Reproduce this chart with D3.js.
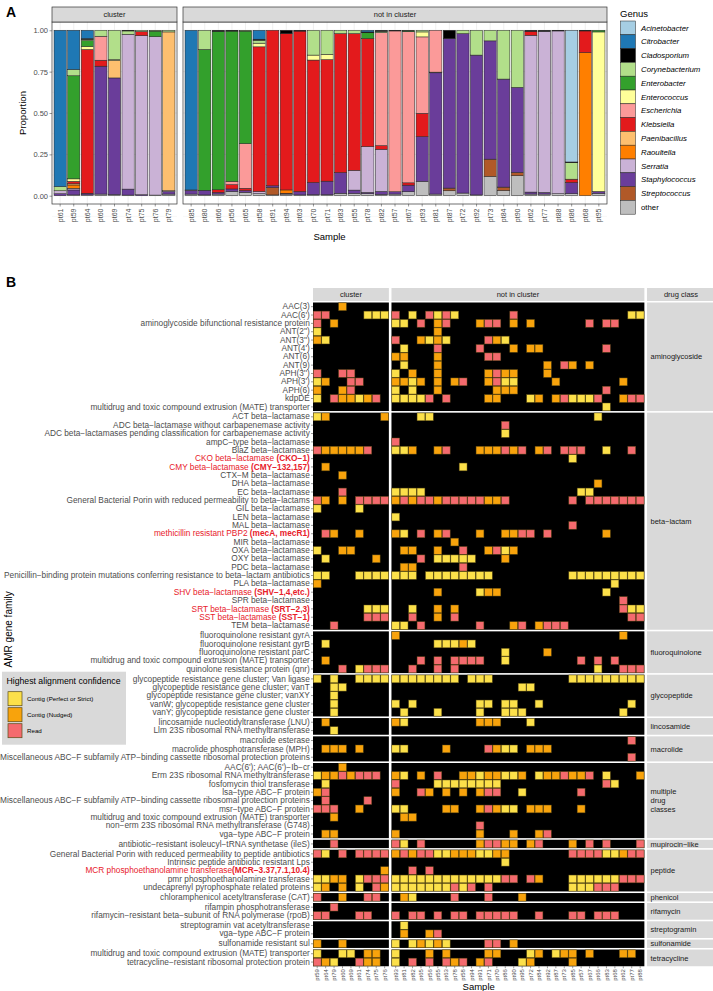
<!DOCTYPE html>
<html>
<head>
<meta charset="utf-8">
<script src="https://cdn.jsdelivr.net/npm/d3@7"></script>
<style>
  body { margin: 0; background: #fff; }
  svg { display: block; font-family: "Liberation Sans", Arial, sans-serif; }
</style>
</head>
<body>
<div id="chart"></div>
<script>
// ---------------- data: panel A ----------------
const genera = ["Acinetobacter", "Citrobacter", "Cladosporium", "Corynebacterium", "Enterobacter",
  "Enterococcus", "Escherichia", "Klebsiella", "Paenibacillus", "Raoultella", "Serratia",
  "Staphylococcus", "Streptococcus", "other"];
const genusColors = ["#A6CEE3", "#1F78B4", "#000000", "#B2DF8A", "#33A02C", "#FFFF99", "#FB9A99",
  "#E31A1C", "#FDBF6F", "#FF7F00", "#CAB2D6", "#6A3D9A", "#B15928", "#BEBEBE"];
const clusterSamplesA = ["pt61", "pt59", "pt64", "pt60", "pt69", "pt74", "pt75", "pt76", "pt79"];
const otherSamplesA = ["pt85", "pt80", "pt66", "pt56", "pt65", "pt58", "pt91", "pt94", "pt63", "pt70",
  "pt71", "pt83", "pt55", "pt78", "pt82", "pt57", "pt67", "pt93", "pt81", "pt87", "pt72", "pt92",
  "pt73", "pt84", "pt90", "pt62", "pt77", "pt88", "pt86", "pt68", "pt95"];
// one row per sample (cluster first), values in the order of `genera`
const proportionsA = [
  [0, .945, 0, .025, 0, 0, 0, 0, 0, 0, .018, .012, 0, 0],
  [0, .237, 0, .038, .623, .015, 0, .015, .007, .02, .01, .03, 0, .005],
  [0, .05, .005, .008, .035, .018, 0, .869, 0, 0, 0, .01, 0, .005],
  [0, 0, 0, .036, 0, 0, .145, .036, 0, 0, 0, .773, 0, .01],
  [0, 0, 0, .177, 0, .005, 0, 0, .106, 0, 0, .705, 0, .007],
  [0, 0, .004, .02, 0, 0, 0, 0, 0, 0, .936, .036, 0, .004],
  [0, 0, 0, .008, 0, 0, 0, .024, 0, 0, .962, .006, 0, 0],
  [0, 0, 0, .005, .034, 0, 0, 0, 0, 0, .957, 0, 0, .004],
  [0, 0, 0, .01, 0, 0, 0, 0, .96, 0, .005, .015, 0, .01],
  [0, .965, 0, 0, 0, 0, 0, 0, 0, 0, .005, .02, 0, .01],
  [0, 0, 0, .116, .851, 0, 0, 0, 0, 0, 0, .028, 0, .005],
  [0, 0, .006, 0, .958, 0, 0, .016, 0, 0, 0, .01, 0, .01],
  [0, 0, .005, 0, .908, 0, .02, .026, 0, 0, 0, .015, 0, .026],
  [0, 0, 0, .005, .68, 0, .27, .014, 0, 0, 0, .01, 0, .021],
  [0, .054, .006, .018, 0, .022, 0, .874, 0, 0, .014, 0, 0, .012],
  [0, 0, 0, 0, 0, 0, 0, .94, 0, 0, 0, .01, .045, .005],
  [0, 0, .02, 0, 0, 0, 0, .945, 0, .02, 0, .005, 0, .01],
  [0, 0, .005, 0, 0, 0, 0, .97, 0, 0, 0, .02, 0, .005],
  [0, 0, 0, .15, 0, .03, 0, .74, 0, 0, 0, .074, 0, .006],
  [0, 0, 0, .145, 0, .032, 0, .735, 0, 0, 0, .082, 0, .006],
  [0, 0, 0, .02, 0, 0, 0, .84, 0, 0, 0, .125, 0, .015],
  [0, 0, 0, .02, 0, 0, 0, .826, 0, 0, .12, .02, 0, .014],
  [0, .01, .005, 0, .035, 0, 0, .653, 0, 0, .277, .008, 0, .012],
  [0, 0, .006, .008, 0, 0, .683, .022, 0, 0, .255, .018, 0, .008],
  [0, 0, .004, 0, 0, 0, .972, 0, 0, 0, 0, .014, 0, .01],
  [0, 0, 0, .004, .004, 0, .914, .014, 0, 0, 0, .04, 0, .024],
  [0, 0, 0, .01, 0, .03, .462, .141, 0, 0, 0, .27, 0, .087],
  [0, 0, 0, 0, 0, 0, .253, 0, 0, 0, .004, .733, 0, .01],
  [0, 0, .05, 0, 0, 0, 0, 0, 0, 0, 0, .904, .016, .03],
  [0, 0, 0, .02, 0, 0, 0, 0, 0, 0, 0, .964, 0, .016],
  [0, 0, 0, .15, 0, 0, 0, 0, 0, 0, 0, .845, 0, .005],
  [0, 0, 0, .064, 0, 0, 0, 0, 0, 0, 0, .715, .104, .117],
  [0, 0, 0, .295, 0, 0, 0, 0, 0, 0, 0, .653, .02, .032],
  [0, 0, 0, .345, 0, 0, 0, 0, 0, 0, 0, .514, .02, .121],
  [0, 0, .006, 0, 0, 0, 0, .024, 0, 0, .948, .012, 0, .01],
  [0, 0, .006, 0, 0, 0, 0, 0, 0, 0, .974, .01, 0, .01],
  [0, 0, .004, 0, 0, 0, 0, 0, 0, 0, .984, 0, 0, .012],
  [.796, 0, .004, .1, 0, 0, 0, .02, 0, 0, 0, .068, 0, .012],
  [0, 0, .004, 0, 0, 0, 0, .131, 0, .865, 0, 0, 0, 0],
  [0, 0, 0, 0, .01, .964, 0, 0, 0, 0, 0, .012, 0, .014]
];
const yTicksA = [0, 0.25, 0.5, 0.75, 1];

// ---------------- data: panel B ----------------
const clusterSamplesB = ["pt59", "pt64", "pt79", "pt60", "pt69", "pt61", "pt74", "pt75", "pt76"];
const otherSamplesB = ["pt93", "pt81", "pt82", "pt65", "pt56", "pt55", "pt63", "pt78", "pt58", "pt94",
  "pt91", "pt71", "pt70", "pt86", "pt90", "pt95", "pt72", "pt84", "pt92", "pt87", "pt73", "pt85",
  "pt57", "pt67", "pt66", "pt83", "pt68", "pt62", "pt77", "pt88"];
const confidenceLevels = ["Contig (Perfect or Strict)", "Contig (Nudged)", "Read"];
const confidenceCodes = ["Y", "O", "R"];
const confidenceColors = ["#FCE04A", "#F8A30C", "#F46A6E"];
const drugClasses = ["aminoglycoside", "beta-lactam", "fluoroquinolone", "glycopeptide", "lincosamide",
  "macrolide", "multiple drug classes", "mupirocin-like", "peptide", "phenicol", "rifamycin",
  "streptogramin", "sulfonamide", "tetracycline"];
// [drug class, label, bold red suffix (only for highlighted families)]
const geneFamilies = [
  ["aminoglycoside", "AAC(3)"],
  ["aminoglycoside", "AAC(6')"],
  ["aminoglycoside", "aminoglycoside bifunctional resistance protein"],
  ["aminoglycoside", "ANT(2'')"],
  ["aminoglycoside", "ANT(3'')"],
  ["aminoglycoside", "ANT(4')"],
  ["aminoglycoside", "ANT(6)"],
  ["aminoglycoside", "ANT(9)"],
  ["aminoglycoside", "APH(3'')"],
  ["aminoglycoside", "APH(3')"],
  ["aminoglycoside", "APH(6)"],
  ["aminoglycoside", "kdpDE"],
  ["aminoglycoside", "multidrug and toxic compound extrusion (MATE) transporter"],
  ["beta-lactam", "ACT beta-lactamase"],
  ["beta-lactam", "ADC beta-lactamase without carbapenemase activity"],
  ["beta-lactam", "ADC beta-lactamases pending classification for carbapenemase activity"],
  ["beta-lactam", "ampC-type beta-lactamase"],
  ["beta-lactam", "BlaZ beta-lactamase"],
  ["beta-lactam", "CKO beta-lactamase ", "(CKO-1)"],
  ["beta-lactam", "CMY beta-lactamase ", "(CMY-132,157)"],
  ["beta-lactam", "CTX-M beta-lactamase"],
  ["beta-lactam", "DHA beta-lactamase"],
  ["beta-lactam", "EC beta-lactamase"],
  ["beta-lactam", "General Bacterial Porin with reduced permeability to beta-lactams"],
  ["beta-lactam", "GIL beta-lactamase"],
  ["beta-lactam", "LEN beta-lactamase"],
  ["beta-lactam", "MAL beta-lactamase"],
  ["beta-lactam", "methicillin resistant PBP2 ", "(mecA, mecR1)"],
  ["beta-lactam", "MIR beta-lactamase"],
  ["beta-lactam", "OXA beta-lactamase"],
  ["beta-lactam", "OXY beta-lactamase"],
  ["beta-lactam", "PDC beta-lactamase"],
  ["beta-lactam", "Penicillin-binding protein mutations conferring resistance to beta-lactam antibiotics"],
  ["beta-lactam", "PLA beta-lactamase"],
  ["beta-lactam", "SHV beta-lactamase ", "(SHV-1,4,etc.)"],
  ["beta-lactam", "SPR beta-lactamase"],
  ["beta-lactam", "SRT beta-lactamase ", "(SRT-2,3)"],
  ["beta-lactam", "SST beta-lactamase ", "(SST-1)"],
  ["beta-lactam", "TEM beta-lactamase"],
  ["fluoroquinolone", "fluoroquinolone resistant gyrA"],
  ["fluoroquinolone", "fluoroquinolone resistant gyrB"],
  ["fluoroquinolone", "fluoroquinolone resistant parC"],
  ["fluoroquinolone", "multidrug and toxic compound extrusion (MATE) transporter"],
  ["fluoroquinolone", "quinolone resistance protein (qnr)"],
  ["glycopeptide", "glycopeptide resistance gene cluster; Van ligase"],
  ["glycopeptide", "glycopeptide resistance gene cluster; vanT"],
  ["glycopeptide", "glycopeptide resistance gene cluster; vanXY"],
  ["glycopeptide", "vanW; glycopeptide resistance gene cluster"],
  ["glycopeptide", "vanY; glycopeptide resistance gene cluster"],
  ["lincosamide", "lincosamide nucleotidyltransferase (LNU)"],
  ["lincosamide", "Llm 23S ribosomal RNA methyltransferase"],
  ["macrolide", "macrolide esterase"],
  ["macrolide", "macrolide phosphotransferase (MPH)"],
  ["macrolide", "Miscellaneous ABC-F subfamily ATP-binding cassette ribosomal protection proteins"],
  ["multiple drug classes", "AAC(6'); AAC(6')-Ib-cr"],
  ["multiple drug classes", "Erm 23S ribosomal RNA methyltransferase"],
  ["multiple drug classes", "fosfomycin thiol transferase"],
  ["multiple drug classes", "lsa-type ABC-F protein"],
  ["multiple drug classes", "Miscellaneous ABC-F subfamily ATP-binding cassette ribosomal protection proteins"],
  ["multiple drug classes", "msr-type ABC-F protein"],
  ["multiple drug classes", "multidrug and toxic compound extrusion (MATE) transporter"],
  ["multiple drug classes", "non-erm 23S ribosomal RNA methyltransferase (G748)"],
  ["multiple drug classes", "vga-type ABC-F protein"],
  ["mupirocin-like", "antibiotic-resistant isoleucyl-tRNA synthetase (ileS)"],
  ["peptide", "General Bacterial Porin with reduced permeability to peptide antibiotics"],
  ["peptide", "Intrinsic peptide antibiotic resistant Lps"],
  ["peptide", "MCR phosphoethanolamine transferase", "(MCR-3.37,7.1,10.4)"],
  ["peptide", "pmr phosphoethanolamine transferase"],
  ["peptide", "undecaprenyl pyrophosphate related proteins"],
  ["phenicol", "chloramphenicol acetyltransferase (CAT)"],
  ["rifamycin", "rifampin phosphotransferase"],
  ["rifamycin", "rifamycin-resistant beta-subunit of RNA polymerase (rpoB)"],
  ["streptogramin", "streptogramin vat acetyltransferase"],
  ["streptogramin", "vga-type ABC-F protein"],
  ["sulfonamide", "sulfonamide resistant sul"],
  ["tetracycline", "multidrug and toxic compound extrusion (MATE) transporter"],
  ["tetracycline", "tetracycline-resistant ribosomal protection protein"]
];
// one string per gene family: 9 cluster samples then 30 other samples
// Y = contig (perfect/strict), O = contig (nudged), R = read, . = none
const hits = [
  "...O....." + "..............................",
  "RR....YYY" + "R.Y.RYRY......R.............YY",
  "R.O......" + "YY.R.OR...ORR.O.O......R.RR...",
  "Y........" + ".....O........................",
  "OY......." + "R..OYOY....ROY................",
  "........." + ".Y...R....R...O.OO.......R....",
  "........." + "OO...O.....RR.................",
  "........." + ".Y...O............O.RO.O......",
  "R..RR...." + "Y.O..O.....OROO...O...........",
  "YO..RR..." + "OOYO.O.OR..ORYY....O.......O..",
  "O..OR...." + "Y.Y..O......OOO..........R....",
  "Y.ROOYOR." + "YYYYR.R....OO...YO.ORYYYR..ORR",
  "........." + ".........................Y....",
  "YO......O" + "...YY...................Y.....",
  "........." + ".............R................",
  "........." + ".............Y................",
  "........." + "R.............................",
  "ROOOOOR.." + "YYO..OR...OOOROR.OR.RRR..Y..R.",
  "........." + ".....................Y........",
  ".O......." + "........Y.....................",
  "...O....." + "..............................",
  "........." + "........................O.....",
  "...R....." + "YYYY..................YY......",
  "RO.O.RRRR" + "ORORRORRRRROOR.......R.RRRRRRR",
  "Y....Y..." + "..............................",
  "........." + "Y.............................",
  "........." + ".....................R........",
  ".RO..O..." + "OY.R.OR...O..OORR.R......O....",
  "........." + ".......O......................",
  "Y..OO...." + ".OO..O..R..ORYO...............",
  ".Y.....O." + "...R.YYYYY...O................",
  "........." + ".OO.....R.....................",
  "YY...YYYY" + "YYY.YYYYYYYY.........YYYYYYYYY",
  "O........" + "..........................Y...",
  "........." + ".....O....YOO............Y....",
  "........." + "...........................R..",
  "......YYY" + "..Y..O.O...................RYY",
  "......RRR" + "..R..O.R....................RR",
  "..R......" + "YY.R......R...OR.ORRR.........",
  "........." + "O..........................O..",
  ".Y......." + ".....YYYOY....................",
  "........." + ".............Y....O...........",
  ".O......." + "...R.R.RRRR..Y........R.R.R...",
  "...R.YRRR" + "..R..R.R................Y..RRR",
  "Y.Y..YYYY" + "YYYYYYYY.YYY.........YYYYYYYYY",
  "..YY....." + "...............YY.............",
  "..Y......" + "..............................",
  "..Y......" + "Y.Y.......YY.YY..Y..........Y.",
  "..Y......" + ".Y...Y....Y..YYY...........Y..",
  ".O......." + "OY........OOO...Y.............",
  "..Y......" + "..............................",
  "........." + "............................R.",
  ".OOO.O..." + "YY....O....ROYY.OOO...........",
  "........." + "............................R.",
  "...O....." + "..............................",
  "YOORORRR." + "OY.O.R..OOYOOYYO.YOOROOR.Y...O",
  ".Y......." + "R....YYYYYYYY............RY...",
  "OR......." + "O..RO.O.O.ORR..Y......R.......",
  ".R....R.." + "..............................",
  "RRR..O..." + "YY....OO..OROYY.OOO...O.......",
  "..O......" + ".OO...........................",
  "........." + "..........R...................",
  ".OO......" + "O.........O...O..OR...........",
  "..R......" + "RY.R......ORROO.OR...O.R.R...R",
  "RY.R.RRRR" + "ORORRYYOOOYYOO.......RRRRYYORR",
  "........." + ".............Y................",
  "........O" + "..R.R.........................",
  "YYOO.YRRR" + "YYYYYYYYYYYYYRR.RO...YYYYYYRRR",
  "YO.O.Y.RO" + "YYYYYYYRYR.R.........YYYRRR...",
  "R..O..RR." + ".OY....R...R...O..............",
  "..R......" + "..............................",
  "RR...RR.." + "R.RR.R.RR.RRRRR..R...RR.RRR...",
  "........." + ".Y............................",
  "........." + ".O..OR........................",
  "O..O....." + "Y.YOYOY....RR.O...............",
  "Y..YY.OO." + "Y...O.O....OO...YO.YOO.O...OO.",
  "ROY..ROO." + "Y.R.R.ROR.OR...YO....O........"
];

// ---------------- drawing ----------------
const W = 713, H = 991;
const INK = "#1A1A1A", TICK = "#4D4D4D", STRIP = "#D9D9D9", GRID = "#EBEBEB";
const minus = s => s.replace(/-/g, "\u2212");

const svg = d3.select("#chart").append("svg")
  .attr("width", W).attr("height", H);

function styleAxis(g, size) {
  g.attr("font-family", null).attr("font-size", size);
  g.select(".domain").remove();
  g.selectAll(".tick line").attr("stroke", "#333").attr("stroke-width", 0.5);
  g.selectAll(".tick text").attr("fill", TICK);
}

// Panel labels
svg.append("text").attr("x", 6).attr("y", 17).attr("font-size", 14).attr("font-weight", "bold").text("A");
svg.append("text").attr("x", 6).attr("y", 287).attr("font-size", 14).attr("font-weight", "bold").text("B");

// ===== Panel A: stacked bars =====
const A_TOP = 22, A_BOT = 204, A_STRIP = 7;
const panelsA = [
  { name: "cluster", samples: clusterSamplesA, x0: 52, x1: 177 },
  { name: "not in cluster", samples: otherSamplesA, x0: 183, x1: 607 }
];
const yA = d3.scaleLinear().domain([-0.05, 1.05]).range([A_BOT, A_TOP]);
const colorA = d3.scaleOrdinal(genera, genusColors);

const rowsA = clusterSamplesA.concat(otherSamplesA).map((s, i) => {
  const o = { sample: s };
  genera.forEach((g, j) => { o[g] = proportionsA[i][j]; });
  return o;
});
const seriesA = d3.stack().keys(genera.slice().reverse())(rowsA);

panelsA.forEach(p => {
  const x = d3.scaleBand().domain(p.samples).range([p.x0, p.x1])
    .paddingInner(0.1).paddingOuter(0.15);
  const g = svg.append("g");

  g.append("rect").attr("x", p.x0).attr("y", A_TOP)
    .attr("width", p.x1 - p.x0).attr("height", A_BOT - A_TOP).attr("fill", "#fff");

  // minor + major grid
  d3.range(-0.125, 1.1, 0.25).forEach(v => {
    g.append("line").attr("x1", p.x0).attr("x2", p.x1).attr("y1", yA(v)).attr("y2", yA(v))
      .attr("stroke", GRID).attr("stroke-width", 0.4);
  });
  yTicksA.forEach(v => {
    g.append("line").attr("x1", p.x0).attr("x2", p.x1).attr("y1", yA(v)).attr("y2", yA(v))
      .attr("stroke", GRID).attr("stroke-width", 0.8);
  });
  p.samples.forEach(s => {
    const cx = x(s) + x.bandwidth() / 2;
    g.append("line").attr("x1", cx).attr("x2", cx).attr("y1", A_TOP).attr("y2", A_BOT)
      .attr("stroke", GRID).attr("stroke-width", 0.8);
  });

  // bars
  seriesA.forEach(ser => {
    g.selectAll(null)
      .data(ser.filter(d => p.samples.includes(d.data.sample) && d[1] - d[0] > 0))
      .join("rect")
      .attr("x", d => x(d.data.sample))
      .attr("width", x.bandwidth())
      .attr("y", d => yA(d[1]))
      .attr("height", d => yA(d[0]) - yA(d[1]))
      .attr("fill", colorA(ser.key))
      .attr("stroke", "#222").attr("stroke-width", 0.5);
  });

  // border
  g.append("rect").attr("x", p.x0).attr("y", A_TOP)
    .attr("width", p.x1 - p.x0).attr("height", A_BOT - A_TOP)
    .attr("fill", "none").attr("stroke", "#333").attr("stroke-width", 0.7);

  // strip
  g.append("rect").attr("x", p.x0).attr("y", A_STRIP)
    .attr("width", p.x1 - p.x0).attr("height", A_TOP - A_STRIP)
    .attr("fill", STRIP).attr("stroke", "#333").attr("stroke-width", 0.7);
  g.append("text").attr("x", (p.x0 + p.x1) / 2).attr("y", (A_STRIP + A_TOP) / 2)
    .attr("dy", "0.35em").attr("text-anchor", "middle").attr("font-size", 7.5)
    .attr("fill", INK).text(p.name);

  // x axis
  const ax = svg.append("g").attr("transform", `translate(0,${A_BOT})`)
    .call(d3.axisBottom(x).tickSize(2.5));
  styleAxis(ax, 7);
  ax.selectAll(".tick text")
    .attr("transform", "rotate(-90)").attr("x", -4.5).attr("y", 0).attr("dy", "0.35em")
    .attr("text-anchor", "end");
});

const ayA = svg.append("g").attr("transform", `translate(52,0)`)
  .call(d3.axisLeft(yA).tickValues(yTicksA).tickFormat(d3.format(".2f")).tickSize(2.5));
styleAxis(ayA, 7.5);
ayA.selectAll(".tick text").attr("x", -4);

svg.append("text").attr("transform", "translate(26,113) rotate(-90)")
  .attr("text-anchor", "middle").attr("font-size", 9.5).text("Proportion");
svg.append("text").attr("x", 329.5).attr("y", 240)
  .attr("text-anchor", "middle").attr("font-size", 9.5).text("Sample");

// legend A
const legA = svg.append("g").attr("transform", "translate(620,0)");
legA.append("text").attr("x", 0).attr("y", 17).attr("font-size", 9.5).text("Genus");
genera.forEach((gname, i) => {
  const yy = 21 + i * 13.8;
  legA.append("rect").attr("x", 0.5).attr("y", yy).attr("width", 15).attr("height", 13.8)
    .attr("fill", colorA(gname)).attr("stroke", "#222").attr("stroke-width", 0.5);
  legA.append("text").attr("x", 21).attr("y", yy + 6.9).attr("dy", "0.35em")
    .attr("font-size", 7.8).attr("font-style", gname === "other" ? "normal" : "italic")
    .text(gname);
});

// ===== Panel B: heatmap =====
const cw = 8.43, rowH = 8.35, gapV = 1.6, gapH = 2.6;
const B_LEFT = 313, HEAT_TOP = 302.5, B_STRIP = 288;
const xc = d3.scaleBand().domain(clusterSamplesB)
  .range([B_LEFT, B_LEFT + clusterSamplesB.length * cw]);
const xn0 = xc.range()[1] + gapH;
const xn = d3.scaleBand().domain(otherSamplesB)
  .range([xn0, xn0 + otherSamplesB.length * cw]);
const STRIP_X = xn.range()[1] + gapH;
const colorB = d3.scaleOrdinal(confidenceCodes, confidenceColors);

const famRows = geneFamilies.map((f, i) => ({ idx: i, cls: f[0], label: f[1], bold: f[2], hit: hits[i] }));

// top strips
[[xc.range(), "cluster"], [xn.range(), "not in cluster"], [[STRIP_X, W + 2], "drug class"]].forEach(([r, t]) => {
  svg.append("rect").attr("x", r[0]).attr("y", B_STRIP).attr("width", r[1] - r[0])
    .attr("height", HEAT_TOP - B_STRIP - 1.5).attr("fill", STRIP);
  svg.append("text").attr("x", (r[0] + r[1]) / 2).attr("y", (B_STRIP + HEAT_TOP - 1.5) / 2)
    .attr("dy", "0.35em").attr("text-anchor", "middle").attr("font-size", 7.5)
    .attr("fill", INK).text(t);
});

const panelTop = {};
let yCursor = HEAT_TOP;
drugClasses.forEach(cls => {
  const rows = famRows.filter(r => r.cls === cls);
  const y = d3.scaleBand().domain(rows.map(r => r.idx))
    .range([yCursor, yCursor + rows.length * rowH]);
  const [y0, y1] = y.range();
  panelTop[cls] = y0;

  [xc, xn].forEach((xs, k) => {
    const [x0, x1] = xs.range();
    svg.append("rect").attr("x", x0).attr("y", y0).attr("width", x1 - x0).attr("height", y1 - y0)
      .attr("fill", "#000");
    const cells = [];
    rows.forEach(r => {
      xs.domain().forEach((s, j) => {
        const c = r.hit[k === 0 ? j : clusterSamplesB.length + j];
        if (c !== ".") cells.push({ s, idx: r.idx, c });
      });
    });
    svg.append("g").selectAll("rect").data(cells).join("rect")
      .attr("x", d => xs(d.s) + 0.3).attr("y", d => y(d.idx) + 0.3)
      .attr("width", xs.bandwidth() - 0.6).attr("height", y.bandwidth() - 0.6)
      .attr("fill", d => colorB(d.c))
      .attr("stroke", "#5a4a14").attr("stroke-opacity", 0.75).attr("stroke-width", 0.6);
  });

  // right strip
  svg.append("rect").attr("x", STRIP_X).attr("y", y0).attr("width", W + 2 - STRIP_X)
    .attr("height", y1 - y0).attr("fill", STRIP);
  const lines = cls === "multiple drug classes" ? ["multiple", "drug", "classes"] : [minus(cls)];
  const lt = svg.append("text").attr("x", STRIP_X + 3.5).attr("font-size", 7.5).attr("fill", INK);
  lines.forEach((l, i) => {
    lt.append("tspan").attr("x", STRIP_X + 3.5)
      .attr("y", (y0 + y1) / 2 + (i - (lines.length - 1) / 2) * 9.2)
      .attr("dy", "0.35em").text(l);
  });

  // y axis labels
  const ay = svg.append("g").attr("transform", `translate(${B_LEFT},0)`)
    .call(d3.axisLeft(y).tickSize(2).tickPadding(1.2).tickFormat(i => minus(famRows[i].label)));
  styleAxis(ay, 8.3);
  ay.selectAll(".tick text").each(function (i) {
    const r = famRows[i];
    if (!r.bold) return;
    const t = d3.select(this).text(null).attr("fill", "#E8202A");
    t.append("tspan").text(minus(r.label));
    t.append("tspan").attr("font-weight", "bold").text(minus(r.bold));
  });

  yCursor = y1 + gapV;
});
const HEAT_BOT = yCursor - gapV;

[xc, xn].forEach(xs => {
  const ax = svg.append("g").attr("transform", `translate(0,${HEAT_BOT})`)
    .call(d3.axisBottom(xs).tickSize(2));
  styleAxis(ax, 6);
  ax.selectAll(".tick text")
    .attr("transform", "rotate(-90)").attr("x", -2.8).attr("y", 0).attr("dy", "0.35em")
    .attr("text-anchor", "end");
});

svg.append("text").attr("x", (B_LEFT + xn.range()[1]) / 2).attr("y", 989.5)
  .attr("text-anchor", "middle").attr("font-size", 9.5).text("Sample");
svg.append("text").attr("transform", `translate(12,${panelTop["fluoroquinolone"] - 2}) rotate(-90)`)
  .attr("text-anchor", "middle").attr("font-size", 10).text("AMR gene family");

// legend B (sits beside the glycopeptide / lincosamide rows)
const legB = svg.append("g").attr("transform", `translate(2,${panelTop["glycopeptide"] - 3})`);
legB.append("rect").attr("width", 124).attr("height", 73).attr("fill", STRIP);
legB.append("text").attr("x", 4.5).attr("y", 12.5).attr("font-size", 8.7).text("Highest alignment confidence");
confidenceLevels.forEach((lab, i) => {
  const yy = 20 + i * 16;
  legB.append("rect").attr("x", 6).attr("y", yy).attr("width", 14).attr("height", 14)
    .attr("fill", confidenceColors[i]).attr("stroke", "#5a4a14").attr("stroke-width", 0.7);
  legB.append("text").attr("x", 25).attr("y", yy + 7).attr("dy", "0.35em")
    .attr("font-size", 6.2).text(lab);
});
</script>
</body>
</html>
